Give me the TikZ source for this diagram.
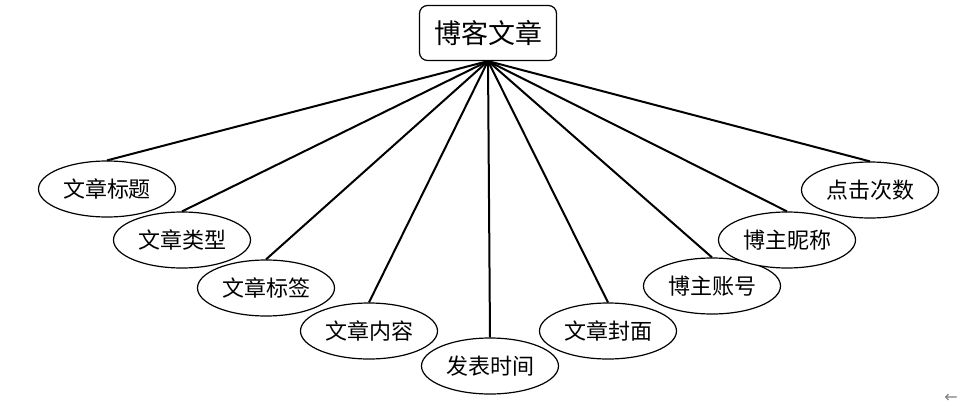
\documentclass[tikz,border=0pt]{standalone}
\usepackage{fontspec}
\newfontfamily\cjk{Noto Sans CJK SC}
\newfontfamily\symfont{DejaVu Sans}
\usetikzlibrary{shapes.geometric}

\begin{document}
\begin{tikzpicture}[
    x=1pt, y=-1pt,
    every node/.style={font=\cjk\fontsize{22}{26}\selectfont},
    entity/.style={draw, rounded corners=8pt, line width=1.2pt, fill=white,
                   minimum width=137pt, minimum height=55pt, inner sep=0pt,
                   font=\cjk\fontsize{27}{32}\selectfont},
    attr/.style={draw, ellipse, line width=1.2pt, fill=white,
                 minimum width=137pt, minimum height=56pt, inner sep=0pt},
    link/.style={line width=2pt},
  ]
  \useasboundingbox (0,0) rectangle (959,410);
  \node[entity] (blog) at (488,33) {博客文章};
  \node[attr] (title)   at (107,189) {文章标题};
  \node[attr] (type)    at (182,240) {文章类型};
  \node[attr] (tag)     at (266,288) {文章标签};
  \node[attr] (content) at (369,331) {文章内容};
  \node[attr] (time)    at (490,366) {发表时间};
  \node[attr] (cover)   at (608,331) {文章封面};
  \node[attr] (account) at (712,286) {博主账号};
  \node[attr] (nick)    at (787,240) {博主昵称};
  \node[attr] (clicks)  at (870,190) {点击次数};
  \draw[link] (blog.south) -- (title.north);
  \draw[link] (blog.south) -- (type.north);
  \draw[link] (blog.south) -- (tag.north);
  \draw[link] (blog.south) -- (content.north);
  \draw[link] (blog.south) -- (time.north);
  \draw[link] (blog.south) -- (cover.north);
  \draw[link] (blog.south) -- (account.north);
  \draw[link] (blog.south) -- (nick.north);
  \draw[link] (blog.south) -- (clicks.north);
  \node[font=\symfont\fontsize{16}{18}\selectfont, text=gray] (back) at (951,398) {←};
\end{tikzpicture}
\end{document}
